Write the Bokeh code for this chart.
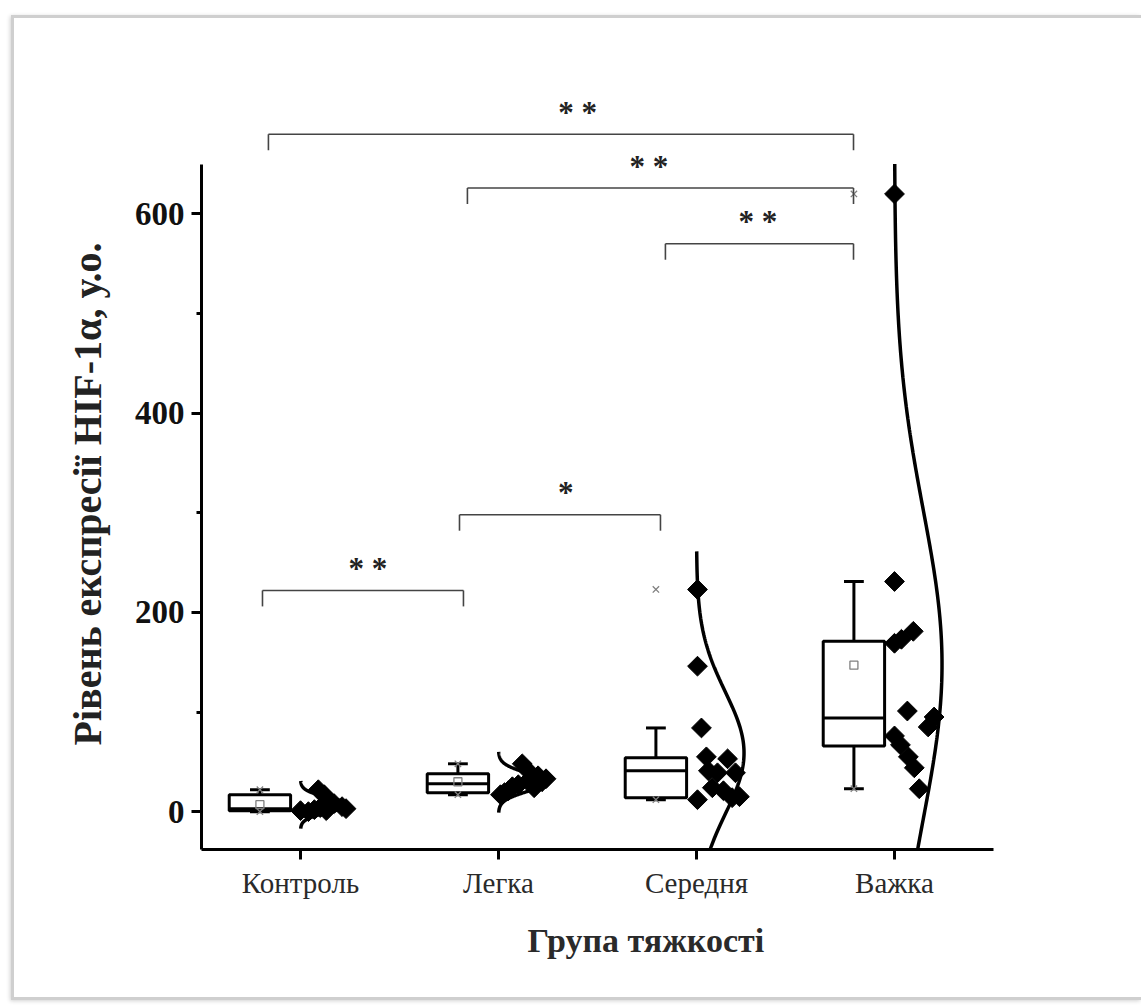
import numpy as np
from bokeh.plotting import figure
from bokeh.models import Range1d, FixedTicker, Title
from bokeh.core.properties import value
from bokeh.embed import file_html
from bokeh.resources import INLINE

# ---- data -------------------------------------------------------------
groups = ["Контроль", "Легка", "Середня", "Важка"]
positions = [0, 1, 2, 3]

# individual measurements per group and their horizontal spread beside the tick
ctrl_vals = [1, 0, 2, 4, 22, 17, 12, 8, 5, 3, 1]
ctrl_jit = [0.00, 0.04, 0.07, 0.10, 0.09, 0.12, 0.14, 0.17, 0.21, 0.23, 0.13]
mild_vals = [17, 19, 21, 25, 48, 41, 33, 27, 36, 30, 33, 24]
mild_jit = [0.01, 0.03, 0.05, 0.07, 0.12, 0.15, 0.16, 0.10, 0.20, 0.22, 0.24, 0.18]
mod_vals = [223, 146, 84, 55, 53, 41, 39, 39, 24, 21, 12, 14, 15]
mod_jit = [0.005, 0.005, 0.025, 0.05, 0.157, 0.06, 0.106, 0.197, 0.08, 0.136, 0.005, 0.18, 0.217]
sev_vals = [620, 231, 169, 173, 181, 101, 95, 85, 76, 67, 55, 44, 23]
sev_jit = [0.0, 0.0, 0.0, 0.035, 0.095, 0.065, 0.2, 0.17, 0.0, 0.03, 0.07, 0.1, 0.125]

# box statistics (mean marker of the third group sits under its whisker)
box_low = [0, 17, 12, 23]
box_q1 = [1, 19, 14, 66]
box_med = [3, 28, 41, 94]
box_q3 = [17, 38, 54, 171]
box_high = [22, 48, 84, 231]
box_mean = [7, 30, float("nan"), 147]

# significance brackets: left x, right x, height, label
br_x0 = [-0.162, 0.843, 1.843, 0.803, -0.192]
br_x1 = [2.793, 2.793, 2.793, 1.818, 0.823]
br_y = [680, 626, 570, 298, 222]
br_label = ["* *", "* *", "* *", "*", "* *"]
br_label_x = [1.40, 1.76, 2.31, 1.34, 0.34]

x_title = "Група тяжкості"
y_title = "Рівень експресії HIF-1α, у.о."

# ---- layout constants --------------------------------------------------
Y_LO, Y_HI, Y_AXIS_TOP = -38, 760, 650
BOX_OFF, BOX_W, CAP_W = -0.205, 0.31, 0.10
CURVE_PEAK, CURVE_K = 0.24, 3.3
LEG = 16
SERIF = "Liberation Serif"
FRAME_CSS = "3px solid #cfcfcf"

p = figure(width=1130, height=985, output_backend="svg", toolbar_location=None,
           x_range=Range1d(-0.5, 3.5), y_range=Range1d(Y_LO, Y_HI),
           min_border_left=187, min_border_right=151,
           min_border_top=36, min_border_bottom=154,
           styles={"margin-left": "11px", "margin-top": "15px",
                   "border-left": FRAME_CSS, "border-top": FRAME_CSS,
                   "border-bottom": FRAME_CSS,
                   "box-shadow": "-1px 1px 4px rgba(0,0,0,0.18)"})
p.outline_line_color = None
p.grid.visible = False
p.background_fill_color = "white"
p.border_fill_color = "white"

all_vals = [ctrl_vals, mild_vals, mod_vals, sev_vals]
all_jit = [ctrl_jit, mild_jit, mod_jit, sev_jit]

# normal distribution curves beside each group
for pos, vals in zip(positions, all_vals):
    v = np.asarray(vals, dtype=float)
    m, s = v.mean(), v.std(ddof=1)
    lo = max(m - CURVE_K * s, Y_LO)
    hi = min(m + CURVE_K * s, Y_AXIS_TOP)
    yy = np.linspace(lo, hi, 300)
    xx = pos + CURVE_PEAK * np.exp(-0.5 * ((yy - m) / s) ** 2)
    p.line(xx, yy, line_color="black", line_width=3.5)

# data points
for pos, vals, jit in zip(positions, all_vals, all_jit):
    p.scatter([pos + j for j in jit], vals, marker="square", angle=np.pi / 4,
              size=14, fill_color="black", line_color="black")

# box plots
bx = [pos + BOX_OFF for pos in positions]
p.segment(bx, box_q3, bx, box_high, line_color="black", line_width=3)
p.segment(bx, box_low, bx, box_q1, line_color="black", line_width=3)
p.segment([b - CAP_W / 2 for b in bx], box_high, [b + CAP_W / 2 for b in bx], box_high,
          line_color="black", line_width=3)
p.segment([b - CAP_W / 2 for b in bx], box_low, [b + CAP_W / 2 for b in bx], box_low,
          line_color="black", line_width=3)
p.quad(left=[b - BOX_W / 2 for b in bx], right=[b + BOX_W / 2 for b in bx],
       bottom=box_q1, top=box_q3, fill_alpha=0, line_color="black", line_width=3)
p.segment([b - BOX_W / 2 for b in bx], box_med, [b + BOX_W / 2 for b in bx], box_med,
          line_color="black", line_width=3)
p.scatter(bx, box_mean, marker="square", size=8, fill_alpha=0,
          line_color="#808080", line_width=1.3)
# min / max markers
p.scatter(bx, [min(v) for v in all_vals], marker="x", size=9,
          line_color="#808080", line_width=1.3)
p.scatter(bx, [max(v) for v in all_vals], marker="x", size=9,
          line_color="#808080", line_width=1.3)

# significance brackets
p.segment(br_x0, br_y, br_x1, br_y, line_color="#444444", line_width=1.6)
p.segment(br_x0, br_y, br_x0, [y - LEG for y in br_y], line_color="#444444", line_width=1.6)
p.segment(br_x1, br_y, br_x1, [y - LEG for y in br_y], line_color="#444444", line_width=1.6)
p.text(br_label_x, [y + 22 for y in br_y], text=br_label, text_font=value(SERIF),
       text_font_style="bold", text_font_size="31px", text_align="center",
       text_baseline="middle", text_color="#222222")

# axes
xa = p.xaxis[0]
xa.ticker = FixedTicker(ticks=positions)
xa.major_label_overrides = {pos: g for pos, g in zip(positions, groups)}
xa.minor_tick_line_color = None
xa.axis_line_width = 3
xa.major_tick_line_width = 3
xa.major_tick_out = 10
xa.major_tick_in = 0
xa.major_label_standoff = 7
xa.major_label_text_font = SERIF
xa.major_label_text_font_size = "29px"
xa.major_label_text_color = "#2a2a2a"

ya = p.yaxis[0]
ya.ticker = FixedTicker(ticks=[0, 200, 400, 600], minor_ticks=[100, 300, 500])
ya.bounds = (Y_LO, Y_AXIS_TOP)
ya.axis_line_width = 3
ya.major_tick_line_width = 3
ya.minor_tick_line_width = 3
ya.major_tick_out = 10
ya.major_tick_in = 0
ya.minor_tick_out = 5
ya.minor_tick_in = 0
ya.major_label_standoff = 7
ya.major_label_text_font = SERIF
ya.major_label_text_font_style = "bold"
ya.major_label_text_font_size = "33px"
ya.major_label_text_color = "#111111"

# axis titles, placed a little off the frame centre
p.add_layout(Title(text=x_title, align="left", offset=326, standoff=36,
                   text_font=SERIF, text_font_style="bold", text_font_size="34px",
                   text_color="#2a2a2a"), "below")
p.add_layout(Title(text=y_title, align="left", offset=104, standoff=44,
                   text_font=SERIF, text_font_style="bold", text_font_size="40px",
                   text_color="#222222"), "left")

open("out.html", "w").write(file_html(p, INLINE))
